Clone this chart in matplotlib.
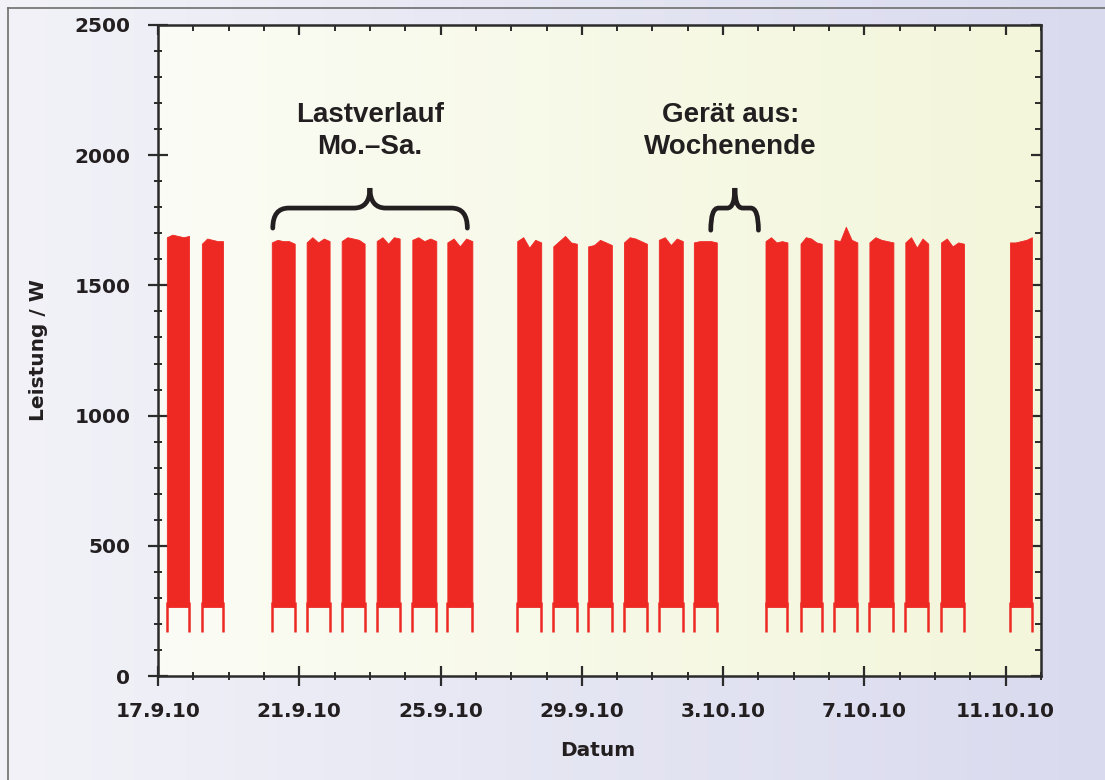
"""Daily load profile of one appliance, 17.9.-11.10.2010 (off on Sundays)."""

import datetime as dt

import matplotlib

matplotlib.use("Agg")
import matplotlib.dates as mdates
import matplotlib.pyplot as plt
import numpy as np
from matplotlib.colors import LinearSegmentedColormap
from matplotlib.lines import Line2D
from matplotlib.patches import PathPatch
from matplotlib.path import Path
from matplotlib.ticker import FixedLocator, FuncFormatter, MultipleLocator

# --- data ------------------------------------------------------------------
WORK_DAYS = [
    "17.9.2010", "18.9.2010",
    "20.9.2010", "21.9.2010", "22.9.2010", "23.9.2010", "24.9.2010", "25.9.2010",
    "27.9.2010", "28.9.2010", "29.9.2010", "30.9.2010", "1.10.2010", "2.10.2010",
    "4.10.2010", "5.10.2010", "6.10.2010", "7.10.2010", "8.10.2010", "9.10.2010",
    "11.10.2010",
]
ON_HOURS = [6.0, 5.8, 5.3, 5.0, 4.8, 4.6, 4.8, 4.6,
            4.1, 4.6, 4.3, 4.6, 4.3, 4.1,
            4.8, 4.6, 3.6, 3.4, 3.8, 4.1, 2.9]
OFF_HOURS = [21.1, 20.2, 20.9, 20.6, 20.4, 20.2, 21.1, 21.6,
             20.4, 20.6, 20.4, 20.2, 20.6, 19.7,
             19.7, 19.0, 19.2, 19.7, 19.4, 19.7, 17.8]
# upper envelope of the power swings per day (W)
TOP_PROFILE = [
    [1685, 1695, 1690, 1685, 1690], [1660, 1680, 1675, 1670, 1670],
    [1665, 1675, 1670, 1670, 1660], [1665, 1685, 1665, 1680, 1670],
    [1670, 1685, 1680, 1675, 1660], [1670, 1685, 1660, 1685, 1680],
    [1675, 1685, 1670, 1680, 1670], [1665, 1680, 1650, 1680, 1670],
    [1670, 1685, 1645, 1675, 1665], [1650, 1670, 1690, 1665, 1660],
    [1650, 1655, 1675, 1665, 1655], [1665, 1685, 1680, 1670, 1660],
    [1675, 1685, 1655, 1680, 1670], [1665, 1670, 1670, 1670, 1665],
    [1670, 1685, 1665, 1670, 1665], [1660, 1685, 1680, 1665, 1660],
    [1675, 1670, 1725, 1675, 1665], [1665, 1685, 1675, 1670, 1665],
    [1665, 1685, 1645, 1680, 1660], [1665, 1680, 1650, 1665, 1660],
    [1665, 1665, 1670, 1675, 1685],
]
BASE_LOAD = 265      # lower envelope while running (W)
STARTUP_DIP = 170    # short dips at switch on / off (W)

X_START = "17.9.2010"
X_END = "12.10.2010"
X_TICKS = ["17.9.2010", "21.9.2010", "25.9.2010", "29.9.2010",
           "3.10.2010", "7.10.2010", "11.10.2010"]
Y_TICKS = [0, 500, 1000, 1500, 2000, 2500]

RED = "#ee2924"
INK = "#231f20"
AXIS_INK = "#2b2b2b"


def day(text: str) -> dt.datetime:
    return dt.datetime.strptime(text, "%d.%m.%Y")


def num(text: str, hours: float = 0.0) -> float:
    return mdates.date2num(day(text) + dt.timedelta(hours=hours))


def date_label(x, _pos):
    d = mdates.num2date(x)
    return f"{d.day}.{d.month}.{d.strftime('%y')}"


def draw_brace(ax, x0, x1, xc, y_foot, y_bar, y_tip, rx):
    verts = [
        (x0, y_foot), (x0, y_bar), (x0 + rx, y_bar),
        (xc - rx, y_bar), (xc, y_bar), (xc, y_tip),
        (xc, y_bar), (xc + rx, y_bar),
        (x1 - rx, y_bar), (x1, y_bar), (x1, y_foot),
    ]
    codes = [
        Path.MOVETO, Path.CURVE3, Path.CURVE3,
        Path.LINETO, Path.CURVE3, Path.CURVE3,
        Path.CURVE3, Path.CURVE3,
        Path.LINETO, Path.CURVE3, Path.CURVE3,
    ]
    ax.add_patch(PathPatch(Path(verts, codes), fill=False, lw=3.4,
                           edgecolor=INK, capstyle="round", zorder=5))


fig = plt.figure(figsize=(11.05, 7.8), dpi=100)

# figure background: soft lavender gradient
bg = fig.add_axes([0, 0, 1, 1], zorder=-10)
bg_cmap = LinearSegmentedColormap.from_list("bg", ["#f2f2f8", "#d9daee"])
bg.imshow(np.linspace(0, 1, 256)[None, :], cmap=bg_cmap, aspect="auto",
          extent=[0, 1, 0, 1])
bg.set_axis_off()
fig.add_artist(Line2D([8 / 1105, 8 / 1105], [0, 1 - 8 / 780],
                      transform=fig.transFigure, color="#6e6e6e", lw=1.2))
fig.add_artist(Line2D([8 / 1105, 1], [1 - 8 / 780, 1 - 8 / 780],
                      transform=fig.transFigure, color="#6e6e6e", lw=1.2))

ax = fig.add_axes([158 / 1105, 1 - 676 / 780, (1041 - 158) / 1105, (676 - 25) / 780])
ax_cmap = LinearSegmentedColormap.from_list("ax", ["#fbfcf5", "#f3f6da"])
ax.imshow(np.linspace(0, 1, 256)[None, :], cmap=ax_cmap, aspect="auto",
          extent=[0, 1, 0, 1], transform=ax.transAxes, zorder=0)

for i, d in enumerate(WORK_DAYS):
    t_on = num(d, ON_HOURS[i])
    t_off = num(d, OFF_HOURS[i])
    xs = np.linspace(t_on, t_off, len(TOP_PROFILE[i]))
    ax.fill_between(xs, BASE_LOAD, TOP_PROFILE[i], color=RED, lw=0.6,
                    edgecolor=RED, zorder=2)
    ax.vlines([t_on, t_off], STARTUP_DIP, BASE_LOAD + 20, color=RED,
              lw=1.8, zorder=2)

# annotations
draw_brace(ax, num("20.9.2010", 6.0), num("25.9.2010", 18.2), num("23.9.2010", 0.0),
           1720, 1797, 1874, 0.45)
draw_brace(ax, num("2.10.2010", 15.6), num("4.10.2010", 0.0), num("3.10.2010", 8.0),
           1712, 1797, 1874, 0.22)
text_kw = dict(ha="center", va="center", fontsize=20, fontweight="bold",
               family="Liberation Sans", color=INK, zorder=6)
ax.text(num("23.9.2010", 0.0), 2154, "Lastverlauf", **text_kw)
ax.text(num("23.9.2010", 0.0), 2031, "Mo.\u2013Sa.", **text_kw)
ax.text(num("3.10.2010", 5.0), 2154, "Gerät aus:", **text_kw)
ax.text(num("3.10.2010", 5.0), 2031, "Wochenende", **text_kw)

# axes
ax.set_xlim(num(X_START), num(X_END))
ax.set_ylim(0, 2500)
ax.xaxis.set_major_locator(FixedLocator([num(t) for t in X_TICKS]))
ax.xaxis.set_minor_locator(mdates.DayLocator())
ax.xaxis.set_major_formatter(FuncFormatter(date_label))
ax.yaxis.set_major_locator(FixedLocator(Y_TICKS))
ax.yaxis.set_minor_locator(MultipleLocator(100))

tick_font = dict(fontsize=14.5, fontweight="bold", family="DejaVu Sans", color=INK)
for lab in ax.get_xticklabels() + ax.get_yticklabels():
    lab.set(**tick_font)
ax.tick_params(which="major", direction="inout", length=14, width=1.6,
               color=AXIS_INK, labelcolor=INK)
ax.tick_params(which="minor", direction="inout", length=6, width=1.4, color=AXIS_INK)
ax.tick_params(axis="x", which="major", pad=12)
ax.tick_params(axis="y", which="major", pad=13)
for spine in ax.spines.values():
    spine.set_color(AXIS_INK)
    spine.set_linewidth(1.8)

top = ax.secondary_xaxis("top")
top.xaxis.set_major_locator(FixedLocator([num(t) for t in X_TICKS]))
top.xaxis.set_minor_locator(mdates.DayLocator())
top.tick_params(which="both", direction="in", labeltop=False, color=AXIS_INK)
top.tick_params(which="major", length=7, width=1.6)
top.tick_params(which="minor", length=4, width=1.4)
right = ax.secondary_yaxis("right")
right.yaxis.set_major_locator(FixedLocator(Y_TICKS))
right.yaxis.set_minor_locator(MultipleLocator(100))
right.tick_params(which="both", direction="in", labelright=False, color=AXIS_INK)
right.tick_params(which="major", length=7, width=1.6)
right.tick_params(which="minor", length=4, width=1.4)
for sec in (top, right):
    for spine in sec.spines.values():
        spine.set_visible(False)

fig.text(598 / 1105, 1 - 750 / 780, "Datum", ha="center", va="center",
         fontsize=14.5, fontweight="bold", family="DejaVu Sans", color=INK)
fig.text(38 / 1105, 1 - 350 / 780, "Leistung / W", ha="center", va="center",
         rotation=90, fontsize=14.5, fontweight="bold", family="DejaVu Sans", color=INK)

fig.savefig("out.png", dpi=100)
